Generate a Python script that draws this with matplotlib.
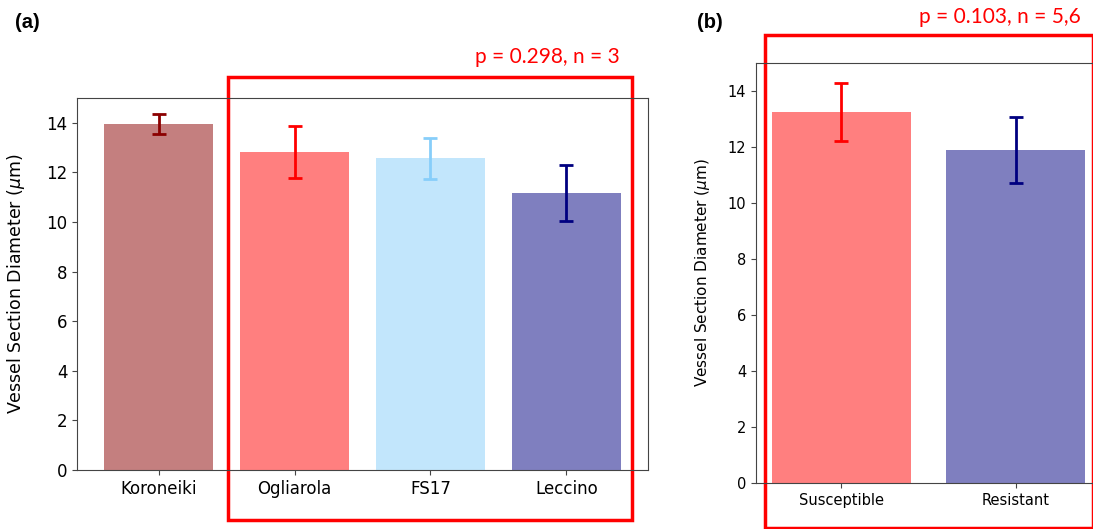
import matplotlib
matplotlib.use('Agg')
import matplotlib.pyplot as plt
from matplotlib.patches import Rectangle

# panel (a): cultivars
cultivars = ['Koroneiki', 'Ogliarola', 'FS17', 'Leccino']
cultivar_means = [13.95, 12.83, 12.57, 11.18]
cultivar_errs = [0.40, 1.05, 0.83, 1.13]
cultivar_colors = ['darkred', 'red', 'lightskyblue', 'navy']

# panel (b): groups
groups = ['Susceptible', 'Resistant']
group_means = [13.25, 11.88]
group_errs = [1.03, 1.18]
group_colors = ['red', 'navy']

ylabel = 'Vessel Section Diameter ($\\mu$m)'
note_a = 'p = 0.298, n = 3'
note_b = 'p = 0.103, n = 5,6'

W, H = 1093, 529
fig = plt.figure(figsize=(W / 100, H / 100), dpi=100)

def px_axes(l, t, r, b):
	return fig.add_axes([l / W, 1 - b / H, (r - l) / W, (b - t) / H])

def draw_bars(ax, names, means, errs, colors, fs):
	x = range(len(names))
	ax.bar(x, means, width=0.8, color=colors, alpha=0.5)
	for i in x:
		ax.errorbar(i, means[i], yerr=errs[i], color=colors[i], capsize=5,
			elinewidth=2, capthick=2, fmt='none')
	ax.set_xticks(list(x))
	ax.set_xticklabels(names, fontsize=fs)
	ax.tick_params(axis='y', labelsize=fs)
	ax.set_ylim(0, 15)
	ax.set_yticks(range(0, 16, 2))
	for s in ax.spines.values():
		s.set_color('#444444')
	ax.tick_params(color='#444444')

ax1 = px_axes(77, 98, 648, 470)
draw_bars(ax1, cultivars, cultivar_means, cultivar_errs, cultivar_colors, 12)
ax1.set_xlim(-0.6, 3.6)
ax1.set_ylabel(ylabel, fontsize=12.5)
ax1.yaxis.set_label_coords(-0.087, 0.5)

ax2 = px_axes(756, 63, 1101, 483)
draw_bars(ax2, groups, group_means, group_errs, group_colors, 10.5)
ax2.set_xlim(-0.49, 1.49)
ax2.set_ylabel(ylabel, fontsize=11)
ax2.yaxis.set_label_coords(-0.127, 0.5)

# red highlight boxes and notes
ax1.add_patch(Rectangle((0.51, -2.0), 2.97, 17.85, fill=False, edgecolor='red',
	linewidth=2.5, clip_on=False))
ax2.add_patch(Rectangle((-0.437, -1.6), 1.88, 17.6, fill=False, edgecolor='red',
	linewidth=2.5, clip_on=False))

fig.text(547 / W, 1 - 57 / H, note_a, color='red', fontsize=15, family='Lato',
	ha='center', va='center')
fig.text(1000 / W, 1 - 17 / H, note_b, color='red', fontsize=15, family='Lato',
	ha='center', va='center')
fig.text(27 / W, 1 - 22 / H, '(a)', fontsize=14.5, weight='bold',
	family='Liberation Sans', ha='center', va='center')
fig.text(710 / W, 1 - 23 / H, '(b)', fontsize=14.5, weight='bold',
	family='Liberation Sans', ha='center', va='center')

fig.savefig('out.png', dpi=100)
